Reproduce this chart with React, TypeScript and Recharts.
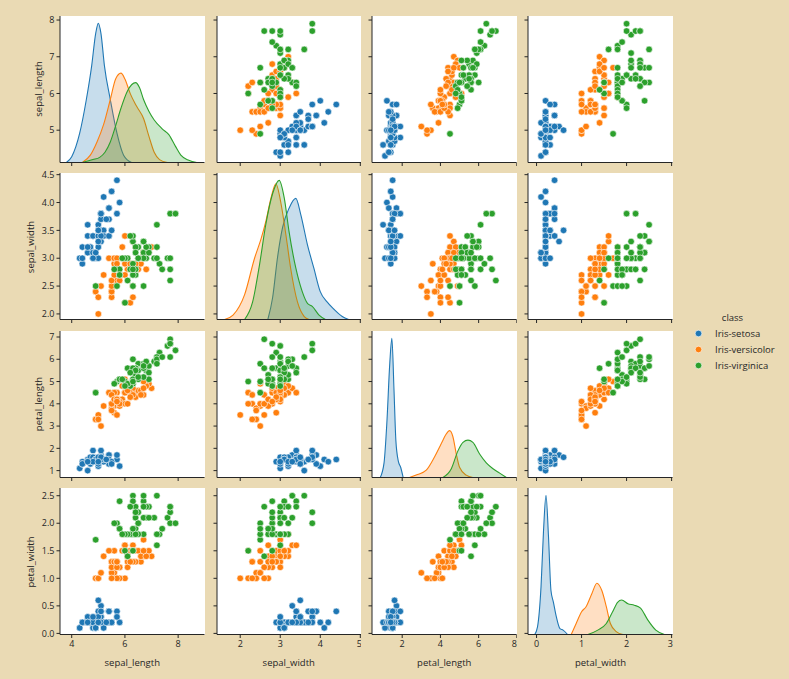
import React from "react";
import { ComposedChart, Scatter, Area, XAxis, YAxis } from "recharts";

const COLORS = ["#1f77b4", "#ff7f0e", "#2ca02c"];
const CLASSES = ["Iris-setosa", "Iris-versicolor", "Iris-virginica"];
const VARS = ["sepal_length", "sepal_width", "petal_length", "petal_width"];

// [sepal_length, sepal_width, petal_length, petal_width]
const setosa = [
  [5.1, 3.5, 1.4, 0.2], [4.9, 3.0, 1.4, 0.2], [4.7, 3.2, 1.3, 0.2], [4.6, 3.1, 1.5, 0.2], [5.0, 3.6, 1.4, 0.2],
  [5.4, 3.9, 1.7, 0.4], [4.6, 3.4, 1.4, 0.3], [5.0, 3.4, 1.5, 0.2], [4.4, 2.9, 1.4, 0.2], [4.9, 3.1, 1.5, 0.1],
  [5.4, 3.7, 1.5, 0.2], [4.8, 3.4, 1.6, 0.2], [4.8, 3.0, 1.4, 0.1], [4.3, 3.0, 1.1, 0.1], [5.8, 4.0, 1.2, 0.2],
  [5.7, 4.4, 1.5, 0.4], [5.4, 3.9, 1.3, 0.4], [5.1, 3.5, 1.4, 0.3], [5.7, 3.8, 1.7, 0.3], [5.1, 3.8, 1.5, 0.3],
  [5.4, 3.4, 1.7, 0.2], [5.1, 3.7, 1.5, 0.4], [4.6, 3.6, 1.0, 0.2], [5.1, 3.3, 1.7, 0.5], [4.8, 3.4, 1.9, 0.2],
  [5.0, 3.0, 1.6, 0.2], [5.0, 3.4, 1.6, 0.4], [5.2, 3.5, 1.5, 0.2], [5.2, 3.4, 1.4, 0.2], [4.7, 3.2, 1.6, 0.2],
  [4.8, 3.1, 1.6, 0.2], [5.4, 3.4, 1.5, 0.4], [5.2, 4.1, 1.5, 0.1], [5.5, 4.2, 1.4, 0.2], [4.9, 3.1, 1.5, 0.1],
  [5.0, 3.2, 1.2, 0.2], [5.5, 3.5, 1.3, 0.2], [4.9, 3.1, 1.5, 0.1], [4.4, 3.0, 1.3, 0.2], [5.1, 3.4, 1.5, 0.2],
  [5.0, 3.5, 1.3, 0.3], [4.4, 3.2, 1.3, 0.2], [5.0, 3.5, 1.6, 0.6], [5.1, 3.8, 1.9, 0.4],
  [4.8, 3.0, 1.4, 0.3], [5.1, 3.8, 1.6, 0.2], [4.6, 3.2, 1.4, 0.2], [5.3, 3.7, 1.5, 0.2], [5.0, 3.3, 1.4, 0.2],
];
const versicolor = [
  [7.0, 3.2, 4.7, 1.4], [6.4, 3.2, 4.5, 1.5], [6.9, 3.1, 4.9, 1.5], [5.5, 2.3, 4.0, 1.3], [6.5, 2.8, 4.6, 1.5],
  [5.7, 2.8, 4.5, 1.3], [6.3, 3.3, 4.7, 1.6], [4.9, 2.4, 3.3, 1.0], [6.6, 2.9, 4.6, 1.3], [5.2, 2.7, 3.9, 1.4],
  [5.0, 2.0, 3.5, 1.0], [5.9, 3.0, 4.2, 1.5], [6.0, 2.2, 4.0, 1.0], [6.1, 2.9, 4.7, 1.4], [5.6, 2.9, 3.6, 1.3],
  [6.7, 3.1, 4.4, 1.4], [5.6, 3.0, 4.5, 1.5], [5.8, 2.7, 4.1, 1.0], [6.2, 2.2, 4.5, 1.5], [5.6, 2.5, 3.9, 1.1],
  [5.9, 3.2, 4.8, 1.8], [6.1, 2.8, 4.0, 1.3], [6.3, 2.5, 4.9, 1.5], [6.1, 2.8, 4.7, 1.2], [6.4, 2.9, 4.3, 1.3],
  [6.6, 3.0, 4.4, 1.4], [6.8, 2.8, 4.8, 1.4], [6.7, 3.0, 5.0, 1.7], [6.0, 2.9, 4.5, 1.5], [5.7, 2.6, 3.5, 1.0],
  [5.5, 2.4, 3.8, 1.1], [5.5, 2.4, 3.7, 1.0], [5.8, 2.7, 3.9, 1.2], [6.0, 2.7, 5.1, 1.6], [5.4, 3.0, 4.5, 1.5],
  [6.0, 3.4, 4.5, 1.6], [6.7, 3.1, 4.7, 1.5], [6.3, 2.3, 4.4, 1.3], [5.6, 3.0, 4.1, 1.3], [5.5, 2.5, 4.0, 1.3],
  [5.5, 2.6, 4.4, 1.2], [6.1, 3.0, 4.6, 1.4], [5.8, 2.6, 4.0, 1.2], [5.0, 2.3, 3.3, 1.0], [5.6, 2.7, 4.2, 1.3],
  [5.7, 3.0, 4.2, 1.2], [5.7, 2.9, 4.2, 1.3], [6.2, 2.9, 4.3, 1.3], [5.1, 2.5, 3.0, 1.1], [5.7, 2.8, 4.1, 1.3],
];
const virginica = [
  [6.3, 3.3, 6.0, 2.5], [5.8, 2.7, 5.1, 1.9], [7.1, 3.0, 5.9, 2.1], [6.3, 2.9, 5.6, 1.8], [6.5, 3.0, 5.8, 2.2],
  [7.6, 3.0, 6.6, 2.1], [4.9, 2.5, 4.5, 1.7], [7.3, 2.9, 6.3, 1.8], [6.7, 2.5, 5.8, 1.8], [7.2, 3.6, 6.1, 2.5],
  [6.5, 3.2, 5.1, 2.0], [6.4, 2.7, 5.3, 1.9], [6.8, 3.0, 5.5, 2.1], [5.7, 2.5, 5.0, 2.0], [5.8, 2.8, 5.1, 2.4],
  [6.4, 3.2, 5.3, 2.3], [6.5, 3.0, 5.5, 1.8], [7.7, 3.8, 6.7, 2.2], [7.7, 2.6, 6.9, 2.3], [6.0, 2.2, 5.0, 1.5],
  [6.9, 3.2, 5.7, 2.3], [5.6, 2.8, 4.9, 2.0], [7.7, 2.8, 6.7, 2.0], [6.3, 2.7, 4.9, 1.8], [6.7, 3.3, 5.7, 2.1],
  [7.2, 3.2, 6.0, 1.8], [6.2, 2.8, 4.8, 1.8], [6.1, 3.0, 4.9, 1.8], [6.4, 2.8, 5.6, 2.1], [7.2, 3.0, 5.8, 1.6],
  [7.4, 2.8, 6.1, 1.9], [7.9, 3.8, 6.4, 2.0], [6.4, 2.8, 5.6, 2.2], [6.3, 2.8, 5.1, 1.5], [6.1, 2.6, 5.6, 1.4],
  [7.7, 3.0, 6.1, 2.3], [6.3, 3.4, 5.6, 2.4], [6.4, 3.1, 5.5, 1.8], [6.0, 3.0, 4.8, 1.8], [6.9, 3.1, 5.4, 2.1],
  [6.7, 3.1, 5.6, 2.4], [6.9, 3.1, 5.1, 2.3], [5.8, 2.7, 5.1, 1.9], [6.8, 3.2, 5.9, 2.3], [6.7, 3.3, 5.7, 2.5],
  [6.7, 3.0, 5.2, 2.3], [6.3, 2.5, 5.0, 1.9], [6.5, 3.0, 5.2, 2.0], [6.2, 3.4, 5.4, 2.3], [5.9, 3.0, 5.1, 1.8],
];
const SPECIES = [setosa, versicolor, virginica];

// density curves on the diagonal: [value, relative density]
const kdeSlSetosa = [[3.8, 0], [4.0, 0.04], [4.3, 0.2], [4.55, 0.43], [4.75, 0.66], [4.9, 0.88], [5.0, 0.95], [5.1, 0.88], [5.23, 0.66], [5.45, 0.43], [5.7, 0.2], [5.95, 0.05], [6.25, 0]];
const kdeSlVersicolor = [[4.4, 0], [4.7, 0.05], [4.95, 0.14], [5.2, 0.26], [5.45, 0.43], [5.65, 0.57], [5.85, 0.61], [6.0, 0.57], [6.2, 0.47], [6.45, 0.38], [6.7, 0.3], [6.9, 0.18], [7.1, 0.07], [7.3, 0.02], [7.6, 0]];
const kdeSlVirginica = [[4.4, 0], [4.8, 0.02], [5.05, 0.035], [5.25, 0.07], [5.45, 0.14], [5.65, 0.25], [5.85, 0.37], [6.1, 0.49], [6.4, 0.545], [6.55, 0.51], [6.7, 0.43], [6.9, 0.35], [7.1, 0.29], [7.4, 0.23], [7.65, 0.19], [7.9, 0.11], [8.1, 0.05], [8.4, 0.015], [8.7, 0]];

const kdeSwSetosa = [[2.69, 0], [2.81, 0.15], [2.93, 0.42], [3.06, 0.63], [3.22, 0.76], [3.39, 0.827], [3.51, 0.72], [3.68, 0.51], [3.84, 0.35], [4.0, 0.19], [4.17, 0.12], [4.34, 0.07], [4.55, 0.02], [4.71, 0]];
const kdeSwVersicolor = [[1.61, 0], [1.82, 0.03], [2.11, 0.17], [2.36, 0.42], [2.52, 0.55], [2.64, 0.67], [2.77, 0.83], [2.89, 0.927], [3.02, 0.79], [3.14, 0.58], [3.26, 0.35], [3.43, 0.12], [3.6, 0.02], [3.72, 0]];
const kdeSwVirginica = [[2.11, 0], [2.31, 0.12], [2.48, 0.37], [2.64, 0.65], [2.81, 0.86], [2.975, 0.95], [3.1, 0.83], [3.22, 0.6], [3.39, 0.35], [3.55, 0.19], [3.68, 0.11], [3.8, 0.09], [3.97, 0.03], [4.13, 0]];

const kdePlSetosa = [[0.85, 0], [1.05, 0.1], [1.2, 0.38], [1.35, 0.78], [1.46, 0.95], [1.57, 0.6], [1.67, 0.25], [1.8, 0.11], [1.92, 0.07], [2.05, 0]];
const kdePlVersicolor = [[2.38, 0], [2.8, 0.02], [3.26, 0.05], [3.69, 0.14], [4.04, 0.23], [4.27, 0.29], [4.48, 0.32], [4.65, 0.28], [4.83, 0.16], [5.0, 0.07], [5.35, 0.016], [5.7, 0]];
const kdePlVirginica = [[4.13, 0], [4.57, 0.06], [4.91, 0.18], [5.18, 0.24], [5.44, 0.255], [5.7, 0.24], [6.05, 0.16], [6.4, 0.1], [6.75, 0.06], [7.1, 0.03], [7.45, 0]];

const kdePwSetosa = [[-0.04, 0], [0.02, 0.05], [0.1, 0.33], [0.155, 0.71], [0.21, 0.95], [0.265, 0.67], [0.32, 0.3], [0.375, 0.22], [0.44, 0.12], [0.52, 0.04], [0.59, 0.03], [0.69, 0]];
const kdePwVersicolor = [[0.77, 0], [0.88, 0.075], [1.0, 0.155], [1.1, 0.19], [1.23, 0.28], [1.34, 0.35], [1.45, 0.3], [1.55, 0.19], [1.64, 0.075], [1.77, 0.02], [1.92, 0]];
const kdePwVirginica = [[1.14, 0], [1.36, 0.03], [1.55, 0.075], [1.69, 0.155], [1.8, 0.22], [1.89, 0.235], [2.03, 0.21], [2.17, 0.2], [2.31, 0.18], [2.47, 0.1], [2.65, 0.03], [2.84, 0]];

const KDES = [
  [kdeSlSetosa, kdeSlVersicolor, kdeSlVirginica],
  [kdeSwSetosa, kdeSwVersicolor, kdeSwVirginica],
  [kdePlSetosa, kdePlVersicolor, kdePlVirginica],
  [kdePwSetosa, kdePwVersicolor, kdePwVirginica],
];

const xDomains = [[3.56, 8.99], [1.42, 5.03], [0.42, 7.98], [-0.19, 3.02]];
const yDomains = [[4.12, 8.11], [1.9, 4.53], [0.69, 7.27], [-0.02, 2.64]];
const xTicks = [[4, 6, 8], [2, 3, 4, 5], [2, 4, 6, 8], [0, 1, 2, 3]];
const yTicks = [[5, 6, 7, 8], [2, 2.5, 3, 3.5, 4, 4.5], [1, 2, 3, 4, 5, 6, 7], [0, 0.5, 1, 1.5, 2, 2.5]];

// layout
const BG = "#eadab4";
const INK = "#262626";
const FONT = "'Open Sans', 'DejaVu Sans', sans-serif";
const COL_LEFT = [60, 216.5, 372, 528.3];
const ROW_TOP = [16, 173.3, 330.8, 488.3];
const PW = 144.5;
const PH = 146.5;
const Y_W = 40;
const X_H = 30;
const PAD_T = 8;
const YLABEL_X = [38.3, 30, 38.3, 30];

const Dot = (props: any) => (
  <circle cx={props.cx} cy={props.cy} r={3.3} fill={props.fill} stroke="#fff" strokeWidth={0.6} />
);

const axisLine = { stroke: INK, strokeWidth: 1 };
const tickStyle = { fontSize: 9, fill: INK };

function Panel({ row, col }: { row: number; col: number }) {
  const diag = row === col;
  return (
    <>
      <div style={{ position: "absolute", left: COL_LEFT[col], top: ROW_TOP[row], width: PW, height: PH, background: "#fff" }} />
      <div style={{ position: "absolute", left: COL_LEFT[col] - Y_W, top: ROW_TOP[row] - PAD_T }}>
        <ComposedChart width={Y_W + PW} height={PAD_T + PH + X_H} margin={{ top: PAD_T, right: 0, bottom: 0, left: 0 }}>
          <XAxis
            type="number"
            dataKey="x"
            domain={xDomains[col]}
            ticks={xTicks[col]}
            allowDataOverflow
            height={X_H}
            axisLine={axisLine}
            tickLine={axisLine}
            tickSize={3.5}
            tickMargin={3}
            tick={tickStyle}
            tickFormatter={(v: number) => (row === 3 ? String(v) : "")}
          />
          <YAxis
            yAxisId="row"
            type="number"
            dataKey="y"
            domain={yDomains[row]}
            ticks={yTicks[row]}
            allowDataOverflow
            width={Y_W}
            axisLine={axisLine}
            tickLine={axisLine}
            tickSize={3.5}
            tickMargin={2}
            tick={tickStyle}
            tickFormatter={(v: number) => (col !== 0 ? "" : row % 2 === 1 ? v.toFixed(1) : String(v))}
          />
          {diag && <YAxis yAxisId="kde" orientation="right" width={0} type="number" domain={[0, 1]} allowDataOverflow hide />}
          {diag &&
            KDES[row].map((curve, s) => (
              <Area
                key={"k" + s}
                yAxisId="kde"
                data={curve.map(([x, d]) => ({ x, d }))}
                dataKey="d"
                type="monotone"
                stroke={COLORS[s]}
                strokeWidth={1.1}
                fill={COLORS[s]}
                fillOpacity={0.25}
                dot={false}
                activeDot={false}
                isAnimationActive={false}
              />
            ))}
          {!diag &&
            SPECIES.map((pts, s) => (
              <Scatter
                key={"s" + s}
                yAxisId="row"
                data={pts.map((p) => ({ x: p[col], y: p[row] }))}
                fill={COLORS[s]}
                shape={Dot}
                isAnimationActive={false}
              />
            ))}
        </ComposedChart>
      </div>
    </>
  );
}

export default function App() {
  const panels = [];
  for (let r = 0; r < 4; r++) for (let c = 0; c < 4; c++) panels.push(<Panel key={r + "-" + c} row={r} col={c} />);

  return (
    <div
      style={{ position: "absolute", left: 0, top: 0, width: 789, height: 679, background: BG, fontFamily: FONT, color: INK, overflow: "hidden" }}
    >
      {panels}

      {VARS.map((v, i) => (
        <div
          key={"xl" + v}
          style={{ position: "absolute", left: COL_LEFT[i] + PW / 2, top: 661.5, transform: "translate(-50%, -50%)", fontSize: 9.5, whiteSpace: "nowrap" }}
        >
          {v}
        </div>
      ))}
      {VARS.map((v, i) => (
        <div
          key={"yl" + v}
          style={{
            position: "absolute",
            left: YLABEL_X[i],
            top: ROW_TOP[i] + PH / 2,
            transform: "translate(-50%, -50%) rotate(-90deg)",
            fontSize: 9.5,
            whiteSpace: "nowrap",
          }}
        >
          {v}
        </div>
      ))}

      {/* legend */}
      <div style={{ position: "absolute", left: 732.5, top: 317.3, transform: "translate(-50%, -50%)", fontSize: 9.5 }}>class</div>
      {CLASSES.map((name, i) => (
        <div key={name} style={{ position: "absolute", left: 694, top: 333.3 + i * 16 - 7, height: 14, display: "flex", alignItems: "center", fontSize: 9.5, whiteSpace: "nowrap" }}>
          <svg width={9} height={9} style={{ marginRight: 12 }}>
            <circle cx={4.5} cy={4.5} r={3.3} fill={COLORS[i]} stroke="#fff" strokeWidth={0.6} />
          </svg>
          {name}
        </div>
      ))}
    </div>
  );
}
